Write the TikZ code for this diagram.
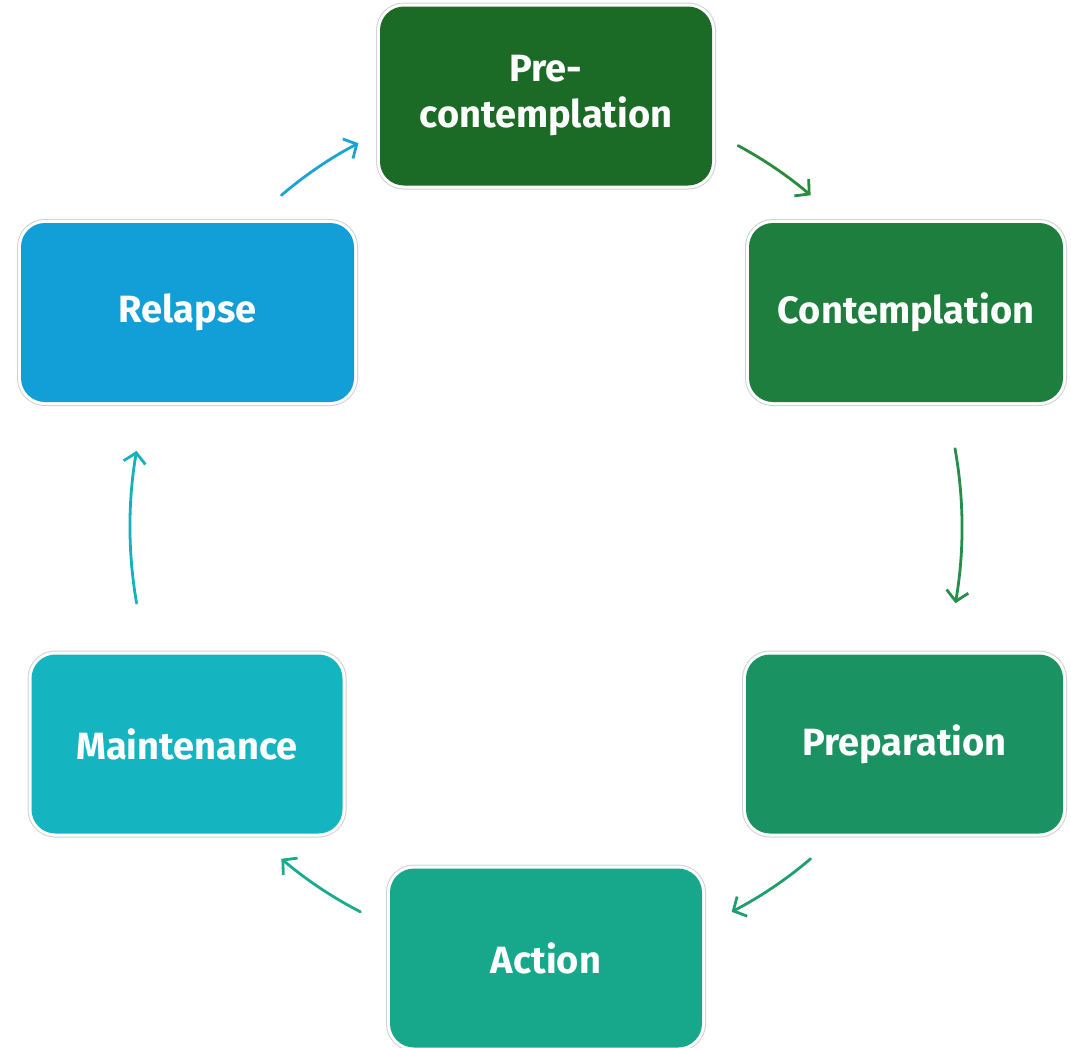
\documentclass[tikz,border=0pt]{standalone}
\usepackage{fontspec}
\setmainfont{Fira Sans}
\usetikzlibrary{arrows.meta}
\definecolor{cPre}{HTML}{1B6B26}
\definecolor{cCon}{HTML}{1D7E3D}
\definecolor{cPrep}{HTML}{1A9261}
\definecolor{cAct}{HTML}{17A88C}
\definecolor{cMain}{HTML}{14B5C0}
\definecolor{cRel}{HTML}{129FD7}
\definecolor{aA}{HTML}{2A8A3E}
\definecolor{aB}{HTML}{258E4C}
\definecolor{aC}{HTML}{1F9E6E}
\definecolor{aD}{HTML}{1AAA8E}
\definecolor{aE}{HTML}{17B1BC}
\definecolor{aF}{HTML}{1AA4D6}
\begin{document}
\begin{tikzpicture}[x=1pt,y=-1pt,
  stage/.style={rectangle, rounded corners=24pt, minimum width=#1, minimum height=179pt,
    inner sep=0pt, text=white, align=center,
    font=\bfseries\fontsize{38}{46}\selectfont,
    preaction={draw=black!18, line width=8pt},
    preaction={draw=white, line width=6pt}},
  stage/.default=314,
  cyc/.style={line width=2.8pt, draw=#1, line cap=round,
    -{Straight Barb[length=10pt, width=22pt, line width=2.8pt]}}
]
\useasboundingbox (0,0) rectangle (1071,1047);
\node[stage=332, fill=cPre] (pre) at (546,96) {Pre-\\contemplation};
\node[stage=314, fill=cCon] (con) at (906,312.5) {Contemplation};
\node[stage=317, fill=cPrep] (prep) at (904.5,744) {Preparation};
\node[stage=312, fill=cAct] (act) at (546,958) {Action};
\node[stage=311, fill=cMain] (main) at (187,744) {Maintenance};
\node[stage=333, fill=cRel] (rel) at (187.5,312.5) {Relapse};
\coordinate (O) at (546,527);
\draw[cyc=aA] ([shift={(-62.5:416 and 430)}]O) arc[start angle=-62.5, end angle=-50.5, x radius=416, y radius=430];
\draw[cyc=aB] ([shift={(-10.5:416 and 430)}]O) arc[start angle=-10.5, end angle=10.2, x radius=416, y radius=430];
\draw[cyc=aC] ([shift={(50.5:416 and 430)}]O) arc[start angle=50.5, end angle=63.5, x radius=416, y radius=430];
\draw[cyc=aD] ([shift={(116.5:416 and 430)}]O) arc[start angle=116.5, end angle=129.5, x radius=416, y radius=430];
\draw[cyc=aE] ([shift={(169.8:416 and 430)}]O) arc[start angle=169.8, end angle=190.2, x radius=416, y radius=430];
\draw[cyc=aF] ([shift={(-129.5:416 and 430)}]O) arc[start angle=-129.5, end angle=-116.8, x radius=416, y radius=430];
\end{tikzpicture}
\end{document}
